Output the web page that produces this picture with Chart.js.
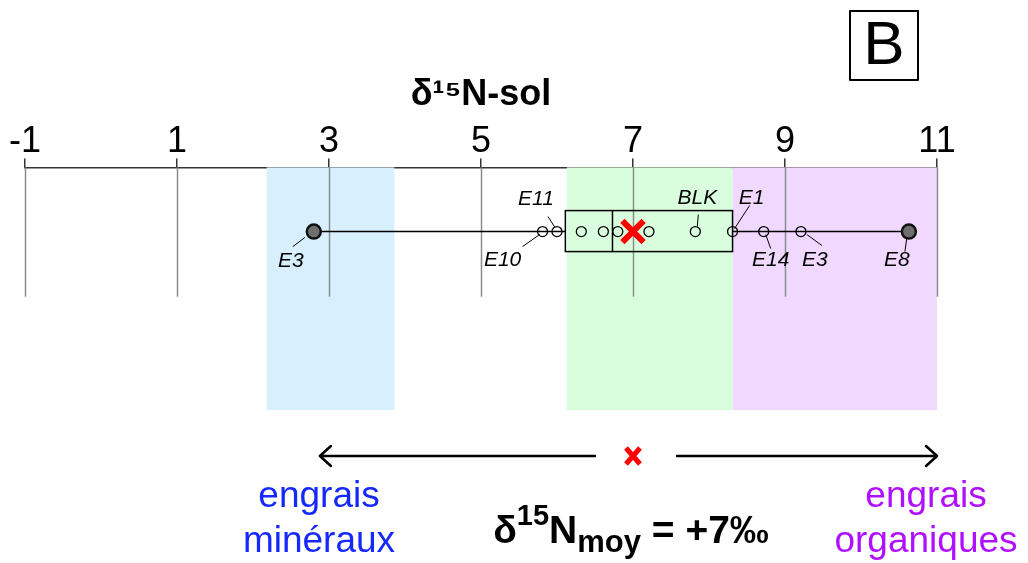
<!DOCTYPE html>
<html><head><meta charset="utf-8">
<script src="https://cdn.jsdelivr.net/npm/chart.js@4/dist/chart.umd.min.js"></script>
<style>html,body{margin:0;padding:0;background:#fff}canvas{display:block}</style>
</head><body>
<canvas id="c" width="1028" height="563"></canvas>
<script>
// ---- data ----
const tickValues = [-1, 1, 3, 5, 7, 9, 11];
const sampleValues = [2.80, 5.81, 6.00, 6.32, 6.61, 6.80, 7.21, 7.82, 8.31, 8.72, 9.21, 10.63];
const sampleLabels = ['E3', 'E10', 'E11', '', '', '', '', 'BLK', 'E1', 'E14', 'E3', 'E8'];
const outlierFlags = [true, false, false, false, false, false, false, false, false, false, false, true];
const boxQuartiles = [6.11, 6.73, 8.31];   // q1, median, q3
const meanValue = 7.0;
const bandStarts = [2.18, 6.13, 8.31];
const bandEnds = [3.86, 8.31, 11.0];
const bandColors = ['#d8effe', '#d9fedd', '#f0d8fe'];
const arrowRange = [2.88, 11.0];

// ---- styling / layout (not data) ----
const FONT = '"Liberation Sans", Arial, sans-serif';
const ROW = 0.2645, GRID_END = 0.533, BOX_TOP = 0.178, BOX_BOT = 0.347;
// label offsets [labelDx, labelDy, lx1, ly1, lx2, ly2] relative to point pixel
const labelGeom = [
  [-23, 30, -9, 6, -21, 15],
  [-40, 29, -3, 3, -20, 15],
  [-21, -32, -2, -4, -9, -15],
  null, null, null, null,
  [2, -33, 2, -5, 3, -17],
  [19, -33, 2, -3, 17, -26],
  [7, 29, 2, 3, 7, 17],
  [14, 29, 6, 3, 21, 14],
  [-12, 29, -2, 6, -4, 20]
];

const openPts = [], filledPts = [];
sampleValues.forEach((v, i) => (outlierFlags[i] ? filledPts : openPts).push({x: v, y: ROW}));

const decor = {
  id: 'decor',
  beforeDatasetsDraw(chart) {
    const {ctx, chartArea: a, scales: {x, y}} = chart;
    ctx.save();
    bandStarts.forEach((s, i) => {
      ctx.fillStyle = bandColors[i];
      const x1 = x.getPixelForValue(s), x2 = x.getPixelForValue(bandEnds[i]);
      ctx.fillRect(x1, a.top, x2 - x1, a.bottom - a.top);
    });
    ctx.strokeStyle = '#8c8c8c'; ctx.lineWidth = 1.5;
    const ge = y.getPixelForValue(GRID_END);
    x.ticks.forEach(t => {
      const px = Math.round(x.getPixelForValue(t.value)) + 0.5;
      ctx.beginPath(); ctx.moveTo(px, a.top); ctx.lineTo(px, ge); ctx.stroke();
    });
    const bx1 = x.getPixelForValue(boxQuartiles[0]), bx2 = x.getPixelForValue(boxQuartiles[2]);
    const bm = x.getPixelForValue(boxQuartiles[1]);
    const by1 = y.getPixelForValue(BOX_TOP), by2 = y.getPixelForValue(BOX_BOT);
    ctx.strokeStyle = '#000'; ctx.lineWidth = 1.5;
    ctx.strokeRect(bx1, by1, bx2 - bx1, by2 - by1);
    ctx.beginPath(); ctx.moveTo(bm, by1); ctx.lineTo(bm, by2); ctx.stroke();
    ctx.restore();
  },
  afterDatasetsDraw(chart) {
    const {ctx, scales: {x, y}} = chart;
    ctx.save();
    ctx.font = 'italic 21px ' + FONT;
    ctx.textAlign = 'center'; ctx.textBaseline = 'middle';
    ctx.fillStyle = '#000'; ctx.strokeStyle = '#000'; ctx.lineWidth = 1;
    sampleValues.forEach((v, i) => {
      const g = labelGeom[i];
      if (!g || !sampleLabels[i]) return;
      const px = x.getPixelForValue(v), py = y.getPixelForValue(ROW);
      ctx.beginPath(); ctx.moveTo(px + g[2], py + g[3]); ctx.lineTo(px + g[4], py + g[5]); ctx.stroke();
      ctx.fillText(sampleLabels[i], px + g[0], py + g[1]);
    });
    const ay = 456;
    const ax1 = x.getPixelForValue(arrowRange[0]), ax2 = x.getPixelForValue(arrowRange[1]);
    const mx = x.getPixelForValue(meanValue);
    ctx.lineWidth = 2.5; ctx.lineCap = 'round'; ctx.lineJoin = 'round';
    ctx.beginPath();
    ctx.moveTo(ax1, ay); ctx.lineTo(mx - 38, ay);
    ctx.moveTo(mx + 44, ay); ctx.lineTo(ax2, ay);
    ctx.moveTo(ax1 + 11, ay - 10); ctx.lineTo(ax1, ay); ctx.lineTo(ax1 + 11, ay + 10);
    ctx.moveTo(ax2 - 11, ay - 10); ctx.lineTo(ax2, ay); ctx.lineTo(ax2 - 11, ay + 10);
    ctx.stroke();
    ctx.strokeStyle = '#ff0000'; ctx.lineWidth = 5; ctx.lineCap = 'butt';
    ctx.beginPath();
    ctx.moveTo(mx - 7, ay - 8); ctx.lineTo(mx + 7, ay + 8);
    ctx.moveTo(mx + 7, ay - 8); ctx.lineTo(mx - 7, ay + 8);
    ctx.stroke();
    ctx.font = '37px ' + FONT; ctx.textBaseline = 'alphabetic';
    ctx.fillStyle = '#1428ff';
    ctx.fillText('engrais', 319, 507);
    ctx.fillText('minéraux', 319, 552);
    ctx.fillStyle = '#b010ff';
    ctx.fillText('engrais', 926, 507);
    ctx.fillText('organiques', 926, 552);
    ctx.fillStyle = '#000'; ctx.textAlign = 'left';
    const parts = [
      ['δ', 'bold 39px', 0], ['15', 'bold 29px', -18], ['N', 'bold 39px', 0],
      ['moy', 'bold 31px', 9], [' = +7‰', 'bold 39px', 0]
    ];
    let total = 0;
    parts.forEach(p => { ctx.font = p[1] + ' ' + FONT; total += ctx.measureText(p[0]).width; });
    let cx = 631 - total / 2;
    parts.forEach(p => { ctx.font = p[1] + ' ' + FONT; ctx.fillText(p[0], cx, 543 + p[2]); cx += ctx.measureText(p[0]).width; });
    ctx.lineWidth = 2; ctx.strokeStyle = '#000';
    ctx.strokeRect(850, 11, 68, 69);
    ctx.font = '62px ' + FONT; ctx.textAlign = 'center'; ctx.textBaseline = 'middle';
    ctx.fillText('B', 884, 47);
    ctx.restore();
  }
};

new Chart(document.getElementById('c'), {
  type: 'scatter',
  data: {
    datasets: [
      {type: 'line', data: [{x: sampleValues[0], y: ROW}, {x: boxQuartiles[0], y: ROW}], borderColor: '#000', borderWidth: 1.6, pointRadius: 0, order: 5},
      {type: 'line', data: [{x: boxQuartiles[2], y: ROW}, {x: sampleValues[sampleValues.length - 1], y: ROW}], borderColor: '#000', borderWidth: 1.6, pointRadius: 0, order: 5},
      {data: openPts, pointRadius: 5, borderColor: '#000', borderWidth: 1.3, backgroundColor: 'rgba(0,0,0,0)', order: 3},
      {data: filledPts, pointRadius: 7, borderColor: '#111', borderWidth: 2.5, backgroundColor: '#6e6e6e', order: 2},
      {data: [{x: meanValue, y: ROW}], pointStyle: 'crossRot', pointRadius: 15, borderWidth: 6, borderColor: '#ff0000', order: 1}
    ]
  },
  options: {
    responsive: false, animation: false, devicePixelRatio: 1,
    layout: {padding: {left: 25, right: 91, top: 73, bottom: 153}},
    plugins: {legend: {display: false}, tooltip: {enabled: false}},
    scales: {
      x: {
        type: 'linear', position: 'top', min: -1, max: 11,
        afterBuildTicks: axis => { axis.ticks = tickValues.map(v => ({value: v})); },
        ticks: {font: {family: FONT, size: 36}, color: '#000', padding: -5, autoSkip: false, maxRotation: 0},
        grid: {drawOnChartArea: false, drawTicks: true, tickLength: 9, color: '#333', lineWidth: 1.5},
        border: {color: '#333', width: 1.5},
        title: {display: true, text: 'δ¹⁵N-sol', color: '#000', font: {family: FONT, size: 36, weight: 'bold'}, padding: {top: 0, bottom: 9}}
      },
      y: {display: false, min: 0, max: 1, reverse: true}
    }
  },
  plugins: [decor]
});
</script>
</body></html>
